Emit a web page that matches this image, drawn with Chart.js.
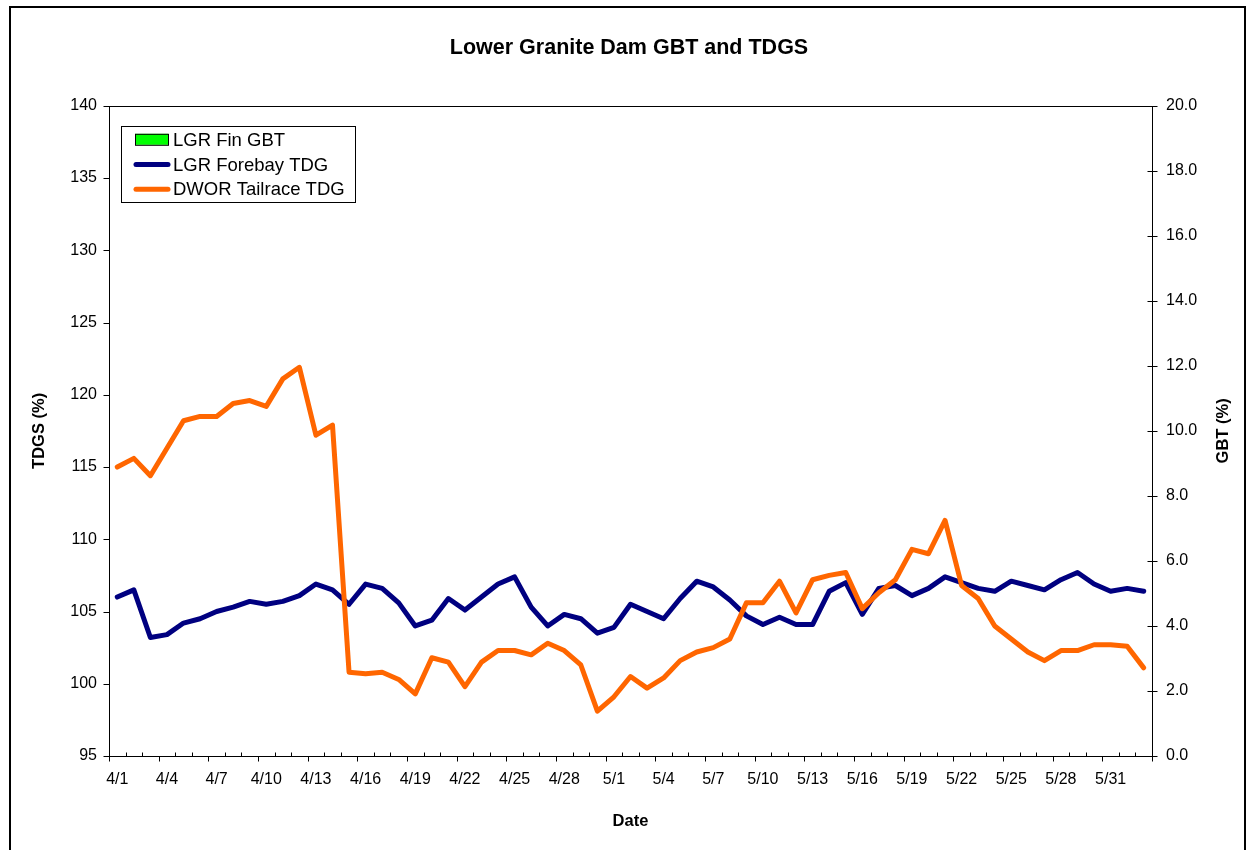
<!DOCTYPE html>
<html>
<head>
<meta charset="utf-8">
<title>Lower Granite Dam GBT and TDGS</title>
<script src="https://cdn.jsdelivr.net/npm/chart.js@4.4.0/dist/chart.umd.min.js"></script>
<style>
  html, body { margin: 0; padding: 0; background: #fff; }
  #wrap { position: relative; width: 1248px; height: 850px; }
</style>
</head>
<body>
<div id="wrap"><canvas id="chart" width="1248" height="850"></canvas></div>
<script>
// ---- data ----
var dates = [
  "4/1","4/2","4/3","4/4","4/5","4/6","4/7","4/8","4/9","4/10",
  "4/11","4/12","4/13","4/14","4/15","4/16","4/17","4/18","4/19","4/20",
  "4/21","4/22","4/23","4/24","4/25","4/26","4/27","4/28","4/29","4/30",
  "5/1","5/2","5/3","5/4","5/5","5/6","5/7","5/8","5/9","5/10",
  "5/11","5/12","5/13","5/14","5/15","5/16","5/17","5/18","5/19","5/20",
  "5/21","5/22","5/23","5/24","5/25","5/26","5/27","5/28","5/29","5/30",
  "5/31","6/1","6/2"
];

var forebayTDG = [
  106.0, 106.5, 103.2, 103.4, 104.2, 104.5, 105.0, 105.3, 105.7, 105.5,
  105.7, 106.1, 106.9, 106.5, 105.5, 106.9, 106.6, 105.6, 104.0, 104.4,
  105.9, 105.1, 106.0, 106.9, 107.4, 105.3, 104.0, 104.8, 104.5, 103.5,
  103.9, 105.5, 105.0, 104.5, 105.9, 107.1, 106.7, 105.8, 104.7, 104.1,
  104.6, 104.1, 104.1, 106.4, 107.0, 104.8, 106.6, 106.8, 106.1, 106.6,
  107.4, 107.0, 106.6, 106.4, 107.1, 106.8, 106.5, 107.2, 107.7, 106.9,
  106.4, 106.6, 106.4
];

var tailraceTDG = [
  115.0, 115.6, 114.4, 116.3, 118.2, 118.5, 118.5, 119.4, 119.6, 119.2,
  121.1, 121.9, 117.2, 117.9, 100.8, 100.7, 100.8, 100.3, 99.3, 101.8,
  101.5, 99.8, 101.5, 102.3, 102.3, 102.0, 102.8, 102.3, 101.3, 98.1,
  99.1, 100.5, 99.7, 100.4, 101.6, 102.2, 102.5, 103.1, 105.6, 105.6,
  107.1, 104.9, 107.2, 107.5, 107.7, 105.2, 106.3, 107.2, 109.3, 109.0,
  111.3, 106.8, 105.9, 104.0, 103.1, 102.2, 101.6, 102.3, 102.3, 102.7,
  102.7, 102.6, 101.1
];

var finGBT = []; // no fin GBT observations in this period

var FONT = "Arial, 'Liberation Sans', sans-serif";

// ---- Excel風の枠・目盛り・凡例を描くプラグイン ----
var excelLook = {
  id: "excelLook",
  beforeDraw: function (chart) {
    var ctx = chart.ctx;
    ctx.save();
    ctx.fillStyle = "#fff";
    ctx.fillRect(0, 0, chart.width, chart.height);
    ctx.strokeStyle = "#000";
    ctx.lineWidth = 2;
    ctx.strokeRect(10, 7, chart.width - 13, chart.height + 20); // outer frame, bottom cut off
    ctx.restore();
  },
  afterDraw: function (chart) {
    var ctx = chart.ctx, a = chart.chartArea;
    var sx = chart.scales.x, sy = chart.scales.y, sy1 = chart.scales.y1;
    ctx.save();
    ctx.strokeStyle = "#000";
    ctx.lineWidth = 1;

    function line(x1, y1, x2, y2) {
      ctx.beginPath(); ctx.moveTo(x1, y1); ctx.lineTo(x2, y2); ctx.stroke();
    }

    // plot area border
    var L = Math.round(a.left) + 0.5, R = Math.round(a.right) + 0.5;
    var T = Math.round(a.top) + 0.5, B = Math.round(a.bottom) + 0.5;
    ctx.strokeRect(L, T, R - L, B - T);

    // left ticks (outside)
    sy.ticks.forEach(function (t) {
      var py = Math.round(sy.getPixelForValue(t.value)) + 0.5;
      line(L - 6, py, L, py);
    });
    // right ticks (cross)
    sy1.ticks.forEach(function (t) {
      var py = Math.round(sy1.getPixelForValue(t.value)) + 0.5;
      line(R - 5, py, R + 5, py);
    });
    // x ticks at category boundaries: major every 3 (down), minor (up)
    var half = (sx.getPixelForValue(1) - sx.getPixelForValue(0)) / 2;
    for (var i = 0; i <= dates.length; i++) {
      var px = Math.round(sx.getPixelForValue(i) - half) + 0.5;
      if (i % 3 === 0) line(px, B, px, B + 5);
      else line(px, B - 4, px, B);
    }

    // right axis title (reads bottom to top like Excel)
    ctx.fillStyle = "#000";
    ctx.font = "bold 16.5px " + FONT;
    ctx.textAlign = "center";
    ctx.textBaseline = "middle";
    ctx.translate(sy1.right - 25, (a.top + a.bottom) / 2);
    ctx.rotate(-Math.PI / 2);
    ctx.fillText("GBT (%)", 0, 0);
    ctx.setTransform(1, 0, 0, 1, 0, 0);

    // legend box
    var bx = a.left + 12, by = a.top + 20, bw = 234, bh = 76;
    ctx.fillStyle = "#fff";
    ctx.fillRect(bx, by, bw, bh);
    ctx.strokeRect(Math.round(bx) + 0.5, Math.round(by) + 0.5, bw, bh);
    ctx.font = "18.5px " + FONT;
    ctx.textAlign = "left";
    ctx.textBaseline = "middle";
    chart.data.datasets.forEach(function (ds, k) {
      var cy = by + 14 + k * 24.7;
      if (ds.type === "bar") {
        ctx.fillStyle = ds.backgroundColor;
        ctx.fillRect(bx + 14, cy - 6, 33, 11);
        ctx.strokeRect(bx + 14.5, cy - 5.5, 33, 11);
      } else {
        ctx.strokeStyle = ds.borderColor;
        ctx.lineWidth = 5;
        ctx.lineCap = "round";
        line(bx + 15, cy, bx + 47, cy);
        ctx.strokeStyle = "#000";
        ctx.lineWidth = 1;
      }
      ctx.fillStyle = "#000";
      ctx.fillText(ds.label, bx + 52, cy + 1);
    });
    ctx.restore();
  }
};

Chart.defaults.font.family = FONT;
Chart.defaults.color = "#000";

new Chart(document.getElementById("chart"), {
  data: {
    labels: dates,
    datasets: [
      { type: "bar", label: "LGR Fin GBT", data: finGBT,
        backgroundColor: "#00ff00", borderColor: "#000", borderWidth: 1,
        yAxisID: "y1", order: 2 },
      { type: "line", label: "LGR Forebay TDG", data: forebayTDG,
        borderColor: "#000080", backgroundColor: "#000080", borderWidth: 5,
        pointRadius: 0, tension: 0, borderJoinStyle: "round", borderCapStyle: "round",
        yAxisID: "y", order: 1 },
      { type: "line", label: "DWOR Tailrace TDG", data: tailraceTDG,
        borderColor: "#ff6600", backgroundColor: "#ff6600", borderWidth: 5,
        pointRadius: 0, tension: 0, borderJoinStyle: "round", borderCapStyle: "round",
        yAxisID: "y", order: 0 }
    ]
  },
  options: {
    responsive: false,
    devicePixelRatio: 1,
    animation: false,
    layout: { padding: { left: 10, top: 0, right: 0, bottom: 0 } },
    plugins: {
      legend: { display: false },
      tooltip: { enabled: false },
      title: {
        display: true,
        text: "Lower Granite Dam GBT and TDGS",
        font: { size: 21.5, weight: "bold" },
        color: "#000",
        padding: { top: 35, bottom: 45 }
      }
    },
    scales: {
      x: {
        type: "category",
        offset: true,
        grid: { display: false },
        border: { display: false },
        ticks: {
          autoSkip: false, maxRotation: 0, minRotation: 0,
          font: { size: 16 }, padding: 6,
          callback: function (v, i) { return i % 3 === 0 ? dates[i] : ""; }
        },
        title: { display: true, text: "Date", font: { size: 16.5, weight: "bold" }, padding: { bottom: 19 } },
        afterFit: function (s) { s.height = 94; }
      },
      y: {
        position: "left",
        min: 95, max: 140,
        grid: { display: false },
        border: { display: false },
        ticks: { stepSize: 5, font: { size: 16 }, padding: 4 },
        title: { display: true, text: "TDGS (%)", font: { size: 16.5, weight: "bold" }, padding: { top: 20 } },
        afterFit: function (s) { s.width = 99; }
      },
      y1: {
        position: "right",
        min: 0, max: 20,
        grid: { display: false },
        border: { display: false },
        ticks: { stepSize: 2, font: { size: 16 }, padding: 6,
          callback: function (v) { return Number(v).toFixed(1); } },
        afterFit: function (s) { s.width = 96; }
      }
    }
  },
  plugins: [excelLook]
});
</script>
</body>
</html>
